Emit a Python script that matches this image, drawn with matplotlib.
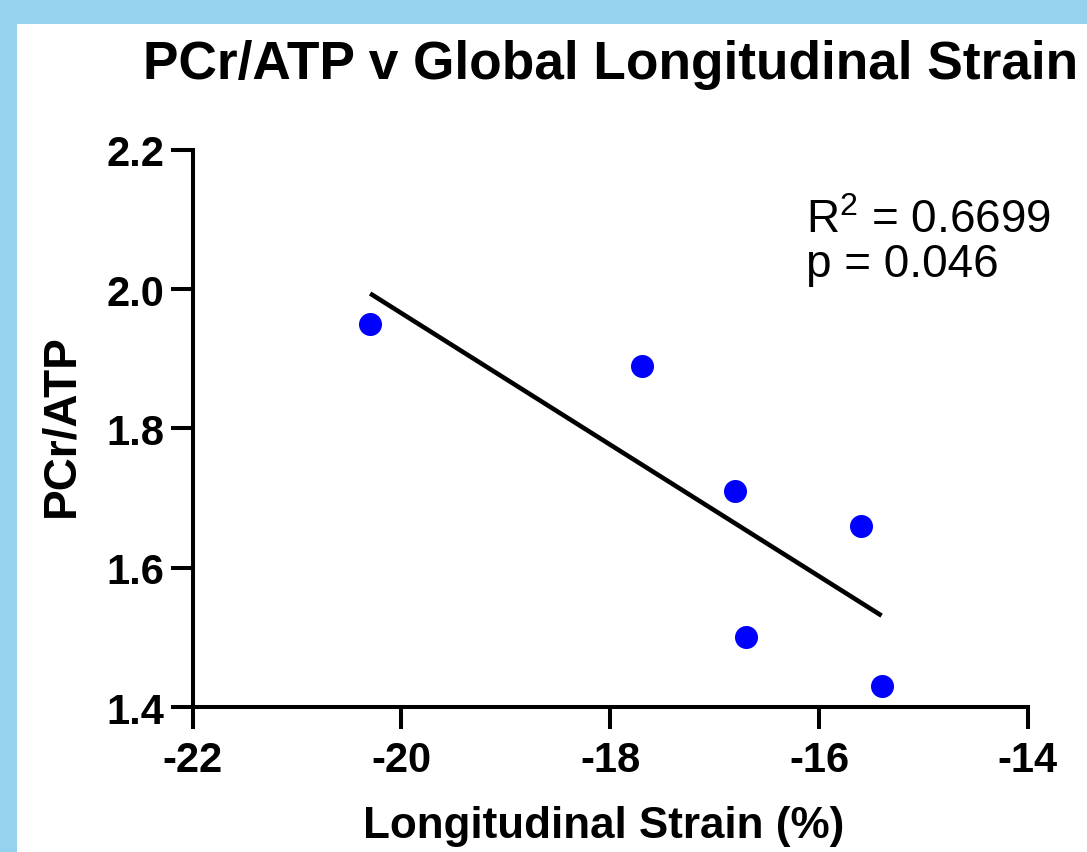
import numpy as np
import matplotlib
matplotlib.use('Agg')
import matplotlib.pyplot as plt
from matplotlib.patches import Rectangle

plt.rcParams['font.family'] = ['Liberation Sans', 'DejaVu Sans']
plt.rcParams['mathtext.fontset'] = 'custom'
plt.rcParams['mathtext.rm'] = 'Liberation Sans'
plt.rcParams['mathtext.it'] = 'Liberation Sans:italic'
plt.rcParams['mathtext.bf'] = 'Liberation Sans:bold'

# data
strain = np.array([-20.3, -17.7, -16.8, -15.6, -16.7, -15.4])
pcr_atp = np.array([1.95, 1.89, 1.71, 1.66, 1.50, 1.43])
xticks = [-22, -20, -18, -16, -14]
yticks = [1.4, 1.6, 1.8, 2.0, 2.2]
r2_text = 'R$^{2}$ = 0.6699'
p_text = 'p = 0.046'

W, H = 1087, 853
fig = plt.figure(figsize=(W / 100, H / 100), dpi=100)
fig.patch.set_facecolor('#94D2EE')
# white panel inside the blue frame
fig.patches.append(Rectangle((17 / W, 0), 1 - 17 / W, 1 - 25 / H,
                             transform=fig.transFigure, facecolor='white',
                             edgecolor='none', zorder=-5))

ax_l, ax_r = 192.7, 1027.7
ax_t, ax_b = 150.7, 708.0
ax = fig.add_axes([ax_l / W, 1 - ax_b / H, (ax_r - ax_l) / W, (ax_b - ax_t) / H])
ax.set_facecolor('none')

ax.scatter(strain, pcr_atp, s=275, color='#0000FF', zorder=3, clip_on=False,
           linewidths=0)

# linear fit over the range of the data
slope, icpt = np.polyfit(strain, pcr_atp, 1)
xf = np.array([strain.min(), strain.max()])
ax.plot(xf, slope * xf + icpt, color='black', lw=3.3, solid_capstyle='butt',
        zorder=2)

ax.set_xlim(-22, -14)
ax.set_ylim(1.4, 2.2)
ax.set_xticks(xticks)
ax.set_yticks(yticks)
ax.set_xticklabels([str(t) for t in xticks])
ax.set_yticklabels([f'{t:.1f}' for t in yticks])

for s in ['top', 'right']:
    ax.spines[s].set_visible(False)
for s in ['left', 'bottom']:
    ax.spines[s].set_linewidth(2.9)
ax.tick_params(axis='both', direction='out', length=15.5, width=2.9,
               labelsize=30)
ax.tick_params(axis='x', pad=8)
ax.tick_params(axis='y', pad=5)
for lab in ax.get_xticklabels() + ax.get_yticklabels():
    lab.set_fontweight('bold')

ax.text(-16.12, 2.082, r2_text, fontsize=33, va='baseline', ha='left')
ax.text(-16.12, 2.019, p_text, fontsize=33, va='baseline', ha='left')

fig.text(610.5 / W, 1 - 79 / H, 'PCr/ATP v Global Longitudinal Strain',
         fontsize=38.3, fontweight='bold', ha='center', va='baseline')
fig.text(604 / W, 1 - 837.7 / H, 'Longitudinal Strain (%)',
         fontsize=31.7, fontweight='bold', ha='center', va='baseline')
fig.text(73.3 / W, 1 - 426 / H, 'PCr/ATP', fontsize=33, fontweight='bold',
         rotation=90, rotation_mode='anchor', ha='center', va='baseline')

fig.savefig('out.png', dpi=100, facecolor=fig.get_facecolor())
